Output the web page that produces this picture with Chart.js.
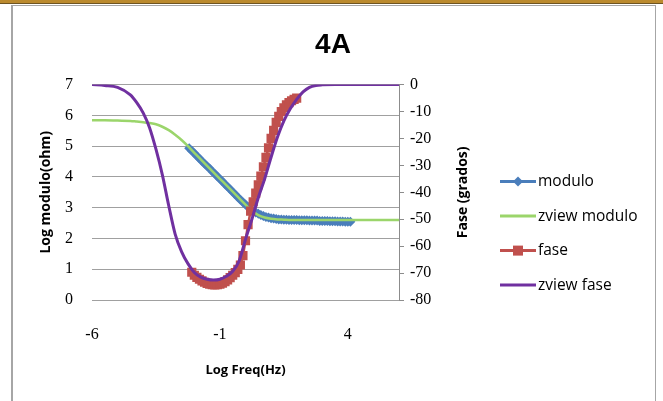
<!DOCTYPE html>
<html>
<head>
<meta charset="utf-8">
<script src="https://cdn.jsdelivr.net/npm/chart.js@4.4.1/dist/chart.umd.min.js"></script>
<style>
  html, body { margin: 0; padding: 0; background: #fff; }
  body { width: 663px; height: 401px; position: relative; overflow: hidden; }
  .topbar { position: absolute; left: 0; top: 0; width: 663px; height: 3px; background: #bb8a2e; border-bottom: 1px solid #6e5422; }
  .frame { position: absolute; left: 11px; top: 5px; width: 642px; height: 420px; border-style: solid; border-color: #a6a6a6; border-width: 1px 1px 0 2px; }
  canvas { position: absolute; left: 0; top: 0; }
</style>
</head>
<body>
<div class="topbar"></div>
<div class="frame"></div>
<canvas id="chart" width="663" height="401"></canvas>
<script>
// measured data (log10 of frequency in Hz)
const logF = [-2.2, -2.1, -2.0, -1.9, -1.8, -1.7, -1.6, -1.5, -1.4, -1.3, -1.2, -1.1, -1.0, -0.9, -0.8, -0.7,
  -0.6, -0.5, -0.4, -0.3, -0.2, -0.1, 0.0, 0.1, 0.2, 0.3, 0.4, 0.5, 0.6, 0.7, 0.8, 0.9,
  1.0, 1.1, 1.2, 1.3, 1.4, 1.5, 1.6, 1.7, 1.8, 1.9, 2.0, 2.1, 2.2, 2.3, 2.4, 2.5,
  2.6, 2.7, 2.8, 2.9, 3.0, 3.1, 3.2, 3.3, 3.4, 3.5, 3.6, 3.7, 3.8, 3.9, 4.0, 4.1];
const modulo = [4.93, 4.85, 4.77, 4.68, 4.6, 4.51, 4.43, 4.35, 4.27, 4.18, 4.1, 4.01, 3.93, 3.85, 3.76, 3.68,
  3.6, 3.51, 3.43, 3.34, 3.26, 3.18, 3.1, 3.02, 2.95, 2.89, 2.84, 2.8, 2.76, 2.73, 2.7, 2.68,
  2.66, 2.65, 2.63, 2.62, 2.62, 2.61, 2.61, 2.6, 2.6, 2.6, 2.6, 2.59, 2.59, 2.59, 2.59, 2.58,
  2.58, 2.58, 2.58, 2.57, 2.57, 2.57, 2.57, 2.56, 2.56, 2.56, 2.55, 2.55, 2.55, 2.54, 2.54, 2.54];
const fase = [null, -69.7, -70.8, -71.6, -72.3, -72.9, -73.4, -73.8, -74.1, -74.3, -74.4, -74.3, -74.1, -73.7, -73.2, -72.5,
  -71.7, -70.8, -69.8, -68.6, -67, -63.5, -58, -52, -47, -43.5, -40.3, -37.2, -34, -30.5, -27, -23.5,
  -20, -17, -14, -11.8, -10, -8.6, -7.5, -6.7, -6, -5.5, -5];

// zview fit
const zviewLogF = [-6, -5.5, -5, -4.5, -4.25, -4, -3.75, -3.5, -3.25, -3, -2.75, -2.5, -2.25, -2, -1.75, -1.5,
  -1.25, -1, -0.75, -0.5, -0.25, 0, 0.25, 0.5, 0.75, 1, 1.25, 1.5, 1.75, 2, 2.25, 2.5, 2.75, 3, 3.5, 4, 5, 6];
const zviewModulo = [5.84, 5.84, 5.83, 5.82, 5.8, 5.78, 5.75, 5.71, 5.63, 5.52, 5.37, 5.2, 5.0, 4.78, 4.57, 4.36,
  4.15, 3.94, 3.73, 3.52, 3.31, 3.1, 2.9, 2.76, 2.68, 2.64, 2.62, 2.61, 2.6, 2.6, 2.6, 2.6, 2.6, 2.6, 2.6, 2.6, 2.6, 2.6];
const zviewFase = [0, -0.3, -1, -3.8, -6.7, -10.5, -16, -24, -33.5, -45, -55.5, -62, -66.5, -69.8, -71.5, -72.3,
  -72.6, -72.3, -71.2, -69.3, -65.5, -57.5, -50, -42, -35, -27, -19.5, -13.5, -9, -5.5, -2.7, -1, -0.3, -0.1, 0, 0, 0, 0];

const xTicks = [-6, -1, 4];

const blue = '#4a7ebb';
const green = '#9bd56b';
const red = '#c0504d';
const purple = '#7030a0';

function points(xs, ys) {
  return ys.map((y, i) => ({ x: xs[i], y }));
}

Chart.defaults.font.family = '"Liberation Serif", serif';
Chart.defaults.color = '#000';

const sideLegend = {
  id: 'sideLegend',
  afterDraw(chart) {
    const { ctx, chartArea } = chart;
    const x0 = chartArea.right + 101;
    chart.data.datasets.forEach((ds, i) => {
      const y = chartArea.top + 97 + i * 34.5;
      ctx.save();
      ctx.strokeStyle = ds.borderColor;
      ctx.lineWidth = 3;
      ctx.beginPath();
      ctx.moveTo(x0, y);
      ctx.lineTo(x0 + 36, y);
      ctx.stroke();
      ctx.fillStyle = ds.borderColor;
      if (ds.pointStyle === 'rectRot') {
        ctx.beginPath();
        ctx.moveTo(x0 + 18, y - 5);
        ctx.lineTo(x0 + 23, y);
        ctx.lineTo(x0 + 18, y + 5);
        ctx.lineTo(x0 + 13, y);
        ctx.closePath();
        ctx.fill();
      } else if (ds.pointStyle === 'rect') {
        ctx.fillRect(x0 + 13, y - 5, 10, 10);
      }
      ctx.fillStyle = '#000';
      ctx.font = '15.5px "Open Sans"';
      ctx.textBaseline = 'middle';
      ctx.fillText(ds.label, x0 + 38, y);
      ctx.restore();
    });
  }
};

const rightTitle = {
  id: 'rightTitle',
  afterDraw(chart) {
    const { ctx, chartArea } = chart;
    ctx.save();
    ctx.translate(chart.scales.y2.left + 64, (chartArea.top + chartArea.bottom) / 2);
    ctx.rotate(-Math.PI / 2);
    ctx.font = 'bold 14px "Open Sans"';
    ctx.fillStyle = '#000';
    ctx.textAlign = 'center';
    ctx.textBaseline = 'middle';
    ctx.fillText('Fase (grados)', 0, 0);
    ctx.restore();
  }
};

new Chart(document.getElementById('chart'), {
  type: 'line',
  data: {
    datasets: [
      { label: 'modulo', data: points(logF, modulo), yAxisID: 'y', order: 4,
        borderColor: blue, backgroundColor: blue, borderWidth: 2.5,
        pointStyle: 'rectRot', pointRadius: 5, pointBorderWidth: 0, pointBackgroundColor: blue },
      { label: 'zview modulo', data: points(zviewLogF, zviewModulo), yAxisID: 'y', order: 3,
        borderColor: green, backgroundColor: green, borderWidth: 2.5, pointRadius: 0,
        cubicInterpolationMode: 'monotone' },
      { label: 'fase', data: points(logF, fase), yAxisID: 'y2', order: 2,
        borderColor: red, backgroundColor: red, borderWidth: 2.5,
        pointStyle: 'rect', pointRadius: 6.5, pointBorderWidth: 0, pointBackgroundColor: red },
      { label: 'zview fase', data: points(zviewLogF, zviewFase), yAxisID: 'y2', order: 1,
        borderColor: purple, backgroundColor: purple, borderWidth: 3, pointRadius: 0,
        cubicInterpolationMode: 'monotone' }
    ]
  },
  options: {
    responsive: false,
    animation: false,
    layout: { padding: { left: 20, right: 17, top: 8, bottom: 0 } },
    plugins: {
      legend: { display: false },
      tooltip: { enabled: false },
      title: {
        display: true,
        text: '4A',
        color: '#000',
        font: { family: '"Liberation Sans", Arial, sans-serif', size: 28, weight: 'bold' },
        padding: { top: 20, bottom: 23 }
      }
    },
    scales: {
      x: {
        type: 'linear',
        min: -6,
        max: 6,
        afterBuildTicks: (axis) => { axis.ticks = xTicks.map((v) => ({ value: v })); },
        afterFit: (axis) => { axis.height = 101; },
        grid: { display: false, drawTicks: false },
        border: { display: false },
        ticks: { padding: 25, font: { size: 16 } },
        title: {
          display: true,
          text: 'Log Freq(Hz)',
          font: { family: '"Open Sans"', size: 13, weight: 'bold' },
          padding: { top: 0, bottom: 23 }
        }
      },
      y: {
        position: 'left',
        min: 0,
        max: 7,
        afterFit: (axis) => { axis.width = 72; },
        ticks: { stepSize: 1, padding: 19, font: { size: 16 } },
        grid: { color: '#a0a0a0', drawTicks: false },
        border: { display: false },
        title: {
          display: true,
          text: 'Log modulo(ohm)',
          font: { family: '"Open Sans"', size: 14, weight: 'bold' },
          padding: { top: 18, bottom: 0 }
        }
      },
      y2: {
        position: 'right',
        min: -80,
        max: 0,
        afterFit: (axis) => { axis.width = 247; },
        ticks: { stepSize: 10, padding: 6, font: { size: 16 } },
        grid: { drawOnChartArea: false, drawTicks: true, tickLength: 5, color: '#8c8c8c' },
        border: { display: true, color: '#8c8c8c' }
      }
    }
  },
  plugins: [sideLegend, rightTitle]
});
</script>
</body>
</html>
